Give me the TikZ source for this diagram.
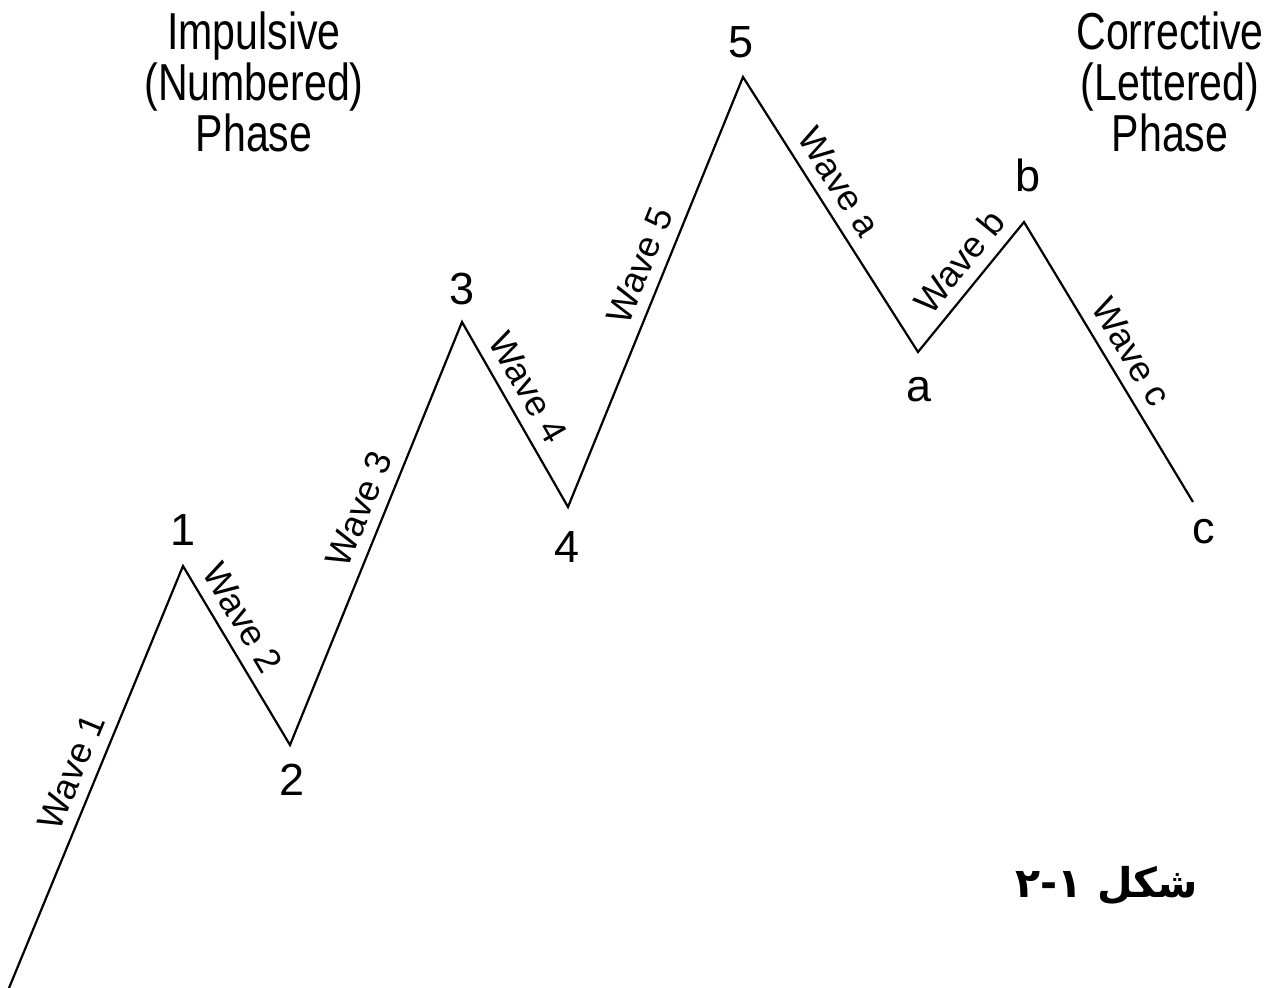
\documentclass[tikz,border=0pt]{standalone}
\usepackage{fontspec}
\setmainfont{Liberation Sans}
\newfontfamily\hdrfont[FakeStretch=0.79]{Liberation Sans}
\newfontfamily\arabicfont[Script=Arabic]{DejaVu Sans}
\TeXXeTstate=1
\begin{document}
\begin{tikzpicture}[x=1pt,y=-1pt,
  wave/.style={line width=2.2pt, line join=miter},
  wl/.style={sloped, above=11pt, inner sep=0pt, font=\fontsize{36}{36}\selectfont},
  pl/.style={inner sep=0pt, font=\fontsize{45}{45}\selectfont},
  hdr/.style={align=center, inner sep=0pt, font=\hdrfont\fontsize{52}{51}\selectfont},
  fig/.style={inner sep=0pt, font=\arabicfont\bfseries\fontsize{41}{41}\selectfont}]
\useasboundingbox[fill=white] (0,0) rectangle (1280,988);
\coordinate (s) at (9,988);
\coordinate (p1) at (183,566);
\coordinate (p2) at (290,745);
\coordinate (p3) at (462,322);
\coordinate (p4) at (568,507);
\coordinate (p5) at (743,77);
\coordinate (pa) at (918,352);
\coordinate (pb) at (1024,222);
\coordinate (pc) at (1193,502);
\draw[wave] (s) -- node[wl,pos=0.49]{Wave 1} (p1)
  -- node[wl,pos=0.36]{Wave 2} (p2)
  -- node[wl,pos=0.536]{Wave 3} (p3)
  -- node[wl,pos=0.42]{Wave 4} (p4)
  -- node[wl,pos=0.54]{Wave 5} (p5)
  -- node[wl,pos=0.43]{Wave a} (pa)
  -- node[wl,pos=0.576]{Wave b} (pb)
  -- node[wl,pos=0.51]{Wave c} (pc);
\node[pl] (l1) at (183,530) {1};
\node[pl] (l2) at (292,780) {2};
\node[pl] (l3) at (462,289) {3};
\node[pl] (l4) at (567,547) {4};
\node[pl] (l5) at (741,42) {5};
\node[pl] (la) at (919,390) {a};
\node[pl] (lb) at (1028,175) {b};
\node[pl] (lc) at (1204,532) {c};
\node[hdr] (h1) at (254,82) {Impulsive\\(Numbered)\\Phase};
\node[hdr] (h2) at (1170,82) {Corrective\\(Lettered)\\Phase};
\node[fig] (cap) at (1107,886) {\beginR شکل ۱\kern0pt-\kern0pt۲\endR};
\end{tikzpicture}
\end{document}
